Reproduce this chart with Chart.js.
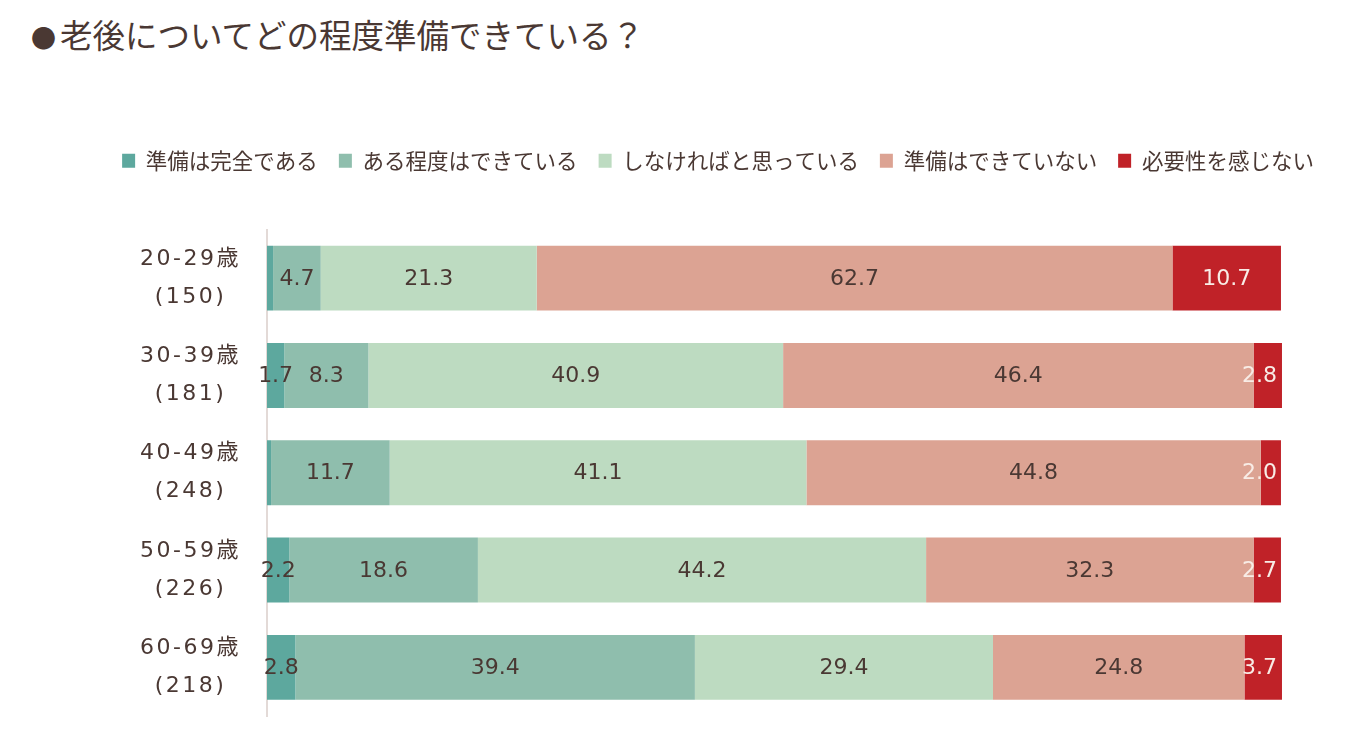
<!DOCTYPE html>
<html lang="ja">
<head>
<meta charset="utf-8">
<title>老後についてどの程度準備できている？</title>
<script src="https://cdn.jsdelivr.net/npm/chart.js@4/dist/chart.umd.min.js"></script>
<style>
  html, body { margin: 0; padding: 0; background: #fff; }
  #wrap { position: relative; width: 1356px; height: 741px; }
  #title {
    position: absolute; left: 31px; top: 14px; margin: 0;
    font: normal 32.5px/40px "Noto Sans CJK JP", sans-serif;
    color: #4A3833; white-space: nowrap;
  }
  #title .dot { font-size: 25px; margin-right: 4px; }
  #rojin { position: absolute; left: 0; top: 0; }
</style>
</head>
<body>
<div id="wrap">
  <h1 id="title"><span class="dot">●</span>老後についてどの程度準備できている？</h1>
  <canvas id="rojin" width="1356" height="741"></canvas>
</div>
<script>
// 年代（回答者数）
const ageGroups = [
  ['20-29歳', '(150)'],
  ['30-39歳', '(181)'],
  ['40-49歳', '(248)'],
  ['50-59歳', '(226)'],
  ['60-69歳', '(218)']
];
const seriesNames = ['準備は完全である', 'ある程度はできている', 'しなければと思っている', '準備はできていない', '必要性を感じない'];

// 各回答の割合（%）
const kanzen = [0.6, 1.7, 0.4, 2.2, 2.8];
const aruteido = [4.7, 8.3, 11.7, 18.6, 39.4];
const shinakereba = [21.3, 40.9, 41.1, 44.2, 29.4];
const dekiteinai = [62.7, 46.4, 44.8, 32.3, 24.8];
const hitsuyouNai = [10.7, 2.8, 2.0, 2.7, 3.7];

const seriesColors = ['#5DA89E', '#8FBEAD', '#BDDBC1', '#DCA393', '#C02228'];
const textColor = '#4A3833';

// 目盛りラベルに字間をつけるためのカテゴリ軸
class SpacedCategoryScale extends Chart.CategoryScale {
  update(maxWidth, maxHeight, margins) {
    this.ctx.save();
    this.ctx.letterSpacing = '2.5px';
    const r = super.update(maxWidth, maxHeight, margins);
    this.ctx.restore();
    return r;
  }
  drawLabels(chartArea) {
    this.ctx.save();
    this.ctx.letterSpacing = '2.5px';
    super.drawLabels(chartArea);
    this.ctx.restore();
  }
}
SpacedCategoryScale.id = 'spacedCategory';
Chart.register(SpacedCategoryScale);

// バーの中に数値を書く
const valueLabels = {
  id: 'valueLabels',
  afterDatasetsDraw(chart) {
    const ctx = chart.ctx;
    const limit = chart.scales.x.getPixelForValue(100);
    ctx.save();
    ctx.font = '22px "DejaVu Sans"';
    ctx.textAlign = 'center';
    ctx.textBaseline = 'middle';
    chart.data.datasets.forEach((ds, i) => {
      const meta = chart.getDatasetMeta(i);
      ctx.fillStyle = i === 4 ? '#F8ECE6' : textColor;
      meta.data.forEach((bar, j) => {
        const v = ds.data[j];
        if (v < 1) return;
        const txt = v.toFixed(1);
        const w = ctx.measureText(txt).width;
        const cx = Math.min((bar.x + bar.base) / 2, limit - w / 2 - 4);
        ctx.fillText(txt, cx, bar.y + 1);
      });
    });
    ctx.restore();
  }
};

const allValues = [kanzen, aruteido, shinakereba, dekiteinai, hitsuyouNai];

Chart.defaults.color = textColor;

new Chart(document.getElementById('rojin'), {
  type: 'bar',
  data: {
    labels: ageGroups,
    datasets: allValues.map((vals, i) => ({
      label: seriesNames[i],
      data: vals,
      backgroundColor: seriesColors[i],
      borderWidth: 0,
      categoryPercentage: 1,
      barPercentage: 0.667
    }))
  },
  options: {
    indexAxis: 'y',
    responsive: false,
    animation: false,
    layout: { padding: { top: 129, left: 80, right: 0, bottom: 25 } },
    plugins: {
      legend: {
        position: 'top',
        labels: {
          boxWidth: 13,
          boxHeight: 14,
          padding: 21,
          color: textColor,
          font: { family: '"Noto Sans CJK JP"', size: 21.5 }
        }
      },
      tooltip: { enabled: false }
    },
    scales: {
      x: {
        position: 'top',
        stacked: true,
        min: 0,
        max: 107.4,
        grid: { display: false },
        border: { display: false },
        ticks: { display: false },
        afterFit(scale) { scale.height = 48; }
      },
      y: {
        type: 'spacedCategory',
        stacked: true,
        grid: { display: false, drawTicks: false },
        border: { display: true, color: '#E3DAD7', width: 2 },
        ticks: {
          crossAlign: 'center',
          padding: 26,
          color: textColor,
          font: { family: '"DejaVu Sans", "Noto Sans CJK JP"', size: 22, lineHeight: 1.73 }
        },
        afterFit(scale) {
          scale.width = 187;
          scale.paddingTop = 0;
          scale.paddingBottom = 0;
        }
      }
    }
  },
  plugins: [valueLabels]
});
</script>
</body>
</html>
